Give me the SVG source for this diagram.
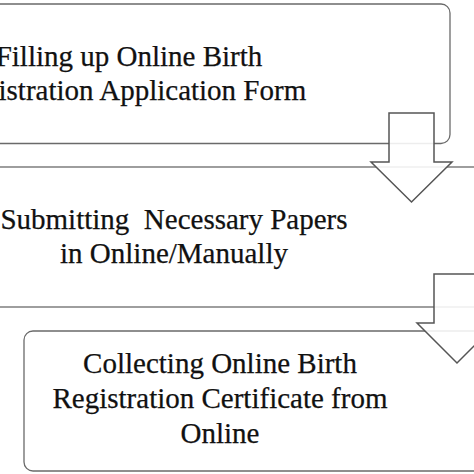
<svg xmlns="http://www.w3.org/2000/svg" width="474" height="474" viewBox="0 0 474 474">
<style>
.box{fill:#fff;stroke:#6a6a6a;stroke-width:1.3}
.arr{fill:#fff;fill-opacity:0.88;stroke:#555;stroke-width:1.5;stroke-linejoin:miter}
text{font-family:'Liberation Serif','Times New Roman',Times,serif;font-size:29px;fill:#111;stroke:#111;stroke-width:0.25;text-anchor:middle}
</style>
<rect width="474" height="474" fill="#fff"/>
<g id="node1">
<rect class="box" x="-200" y="4" width="650" height="139.5" rx="9"/>
<text x="129" y="66">Filling up Online Birth</text>
<text x="129" y="100">Registration Application Form</text>
</g>
<g id="node2">
<rect class="box" x="-20" y="167" width="520" height="140"/>
<text x="174" y="229" xml:space="preserve">Submitting  Necessary Papers</text>
<text x="174" y="263">in Online/Manually</text>
</g>
<g id="node3">
<rect class="box" x="24" y="331" width="480" height="140" rx="9"/>
<text x="220" y="373">Collecting Online Birth</text>
<text x="220" y="408">Registration Certificate from</text>
<text x="220" y="443">Online</text>
</g>
<g id="connectors">
<polygon class="arr" points="389,113 434,113 434,162 452,162 411.5,202 371,162 389,162"/>
<polygon class="arr" points="434,274 480,274 480,323 497,323 457,363 417,323 434,323"/>
</g>
</svg>
